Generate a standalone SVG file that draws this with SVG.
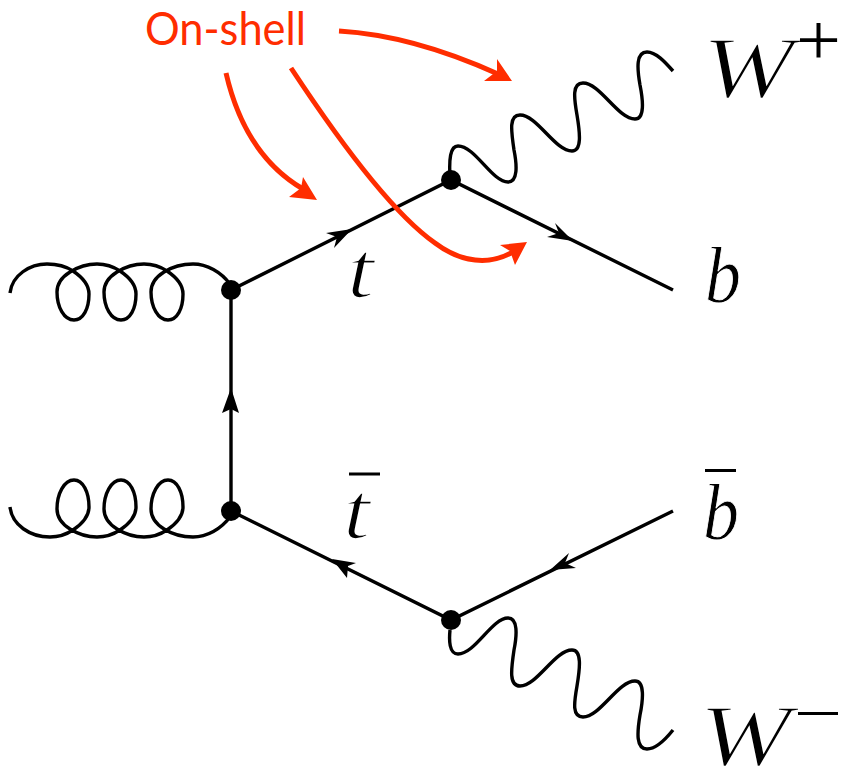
<svg xmlns="http://www.w3.org/2000/svg" width="841" height="768" viewBox="0 0 841 768">
<style>
.l{fill:none;stroke:#000;stroke-width:3.4;stroke-linecap:butt}
.r{fill:none;stroke:#ff2d00;stroke-width:5}
.rh{fill:#ff2d00}
.h{fill:#000}
.m{font-family:"Liberation Serif",serif;font-style:italic;fill:#000;stroke:#fff;stroke-width:.9}
.n{stroke-width:1.7}
.s{font-family:"Liberation Serif",serif;fill:#000}
</style>
<rect width="841" height="768" fill="#fff"/>
<g id="connectors">
<path class="l" d="M231,511V290L451,180L673,290"/>
<path class="l" d="M673,511L451,620L231,511"/>
<path class="h" d="M352,229L326,233L337,237L334,248Z"/>
<path class="h" d="M573,241L547,237L559,233L555,223Z"/>
<path class="h" d="M231,388L222,413L231,409L239,413Z"/>
<path class="h" d="M332,559L356,563L348,566L347,578Z"/>
<path class="h" d="M550,570L569,553L565,563L576,568Z"/>
<path class="l" d="M10,293C12,275 30,264 47,264C58,264 67,267 73,271C82,277 89,284 89,294C89,309 83,320 74,320C64,320 57,307 57,292C57,284 62,277 70,272C78,267 87,264 97,264C106,264 114,267 120,271C129,277 136,284 136,294C136,309 130,320 121,320C111,320 104,307 104,292C104,284 109,277 117,272C125,267 134,264 144,264C153,264 161,267 167,271C176,277 183,284 183,294C183,309 177,320 168,320C158,320 151,307 151,292C151,284 156,277 164,272C172,267 182,264 193,264C207,264 221,272 230,284"/>
<path class="l" d="M10,507C12,525 30,537 50,537C58,537 67,534 73,530C82,524 89,517 89,507C89,492 83,480 74,480C64,480 57,494 57,509C57,517 62,524 70,529C78,534 87,537 97,537C106,537 114,534 120,530C129,524 136,517 136,507C136,492 130,480 121,480C111,480 104,494 104,509C104,517 109,524 117,529C125,534 134,537 144,537C153,537 161,534 167,530C176,524 183,517 183,507C183,492 177,480 168,480C158,480 151,494 151,509C151,517 156,524 164,529C172,534 182,537 193,537C207,537 221,529 230,517"/>
<path class="l" d="M450,177C449,160 450,146 458,146C475,146 492,182 508,182C518,182 517,165 514,150C511,130 509,115 520,115C537,115 555,151 572,151C582,151 580,133 577,115C574,98 572,83 583,83C600,83 618,119 635,119C645,119 643,100 640,85C637,68 636,52 647,52C656,52 665,62 673,71"/>
<path class="l" d="M450,630C449,640 449,654 458,654C475,654 492,618 508,618C518,618 517,635 514,650C511,670 509,686 520,686C537,686 555,650 572,650C582,650 580,668 577,686C574,703 572,717 583,717C600,717 618,681 635,681C645,681 643,700 640,715C637,733 636,749 647,749C656,749 665,740 673,730"/>
<path class="r" d="M339,31C390,34 445,50 498,74"/>
<path class="rh" d="M512,81L484,81L497,71L497,59Z"/>
<path class="r" d="M226,73C238,125 262,165 303,189"/>
<path class="rh" d="M317,200L289,197L301,188L303,177Z"/>
<path class="r" d="M291,68C345,150 395,215 435,243C460,262 490,267 516,250"/>
<path class="rh" d="M527,242L500,245L510,251L515,265Z"/>
</g>
<g id="v1"><circle cx="231" cy="290" r="10"/></g>
<g id="v2"><circle cx="231" cy="511" r="10"/></g>
<g id="v3"><circle cx="451" cy="180" r="10"/></g>
<g id="v4"><circle cx="451" cy="620" r="10"/></g>
<g id="label-onshell"><text x="145" y="45" font-family="Lato,sans-serif" font-size="46" fill="#ff2d00" textLength="161" lengthAdjust="spacingAndGlyphs">On-shell</text></g>
<g id="label-t"><text class="m n" x="347" y="297" font-size="80" textLength="27" lengthAdjust="spacingAndGlyphs">t</text></g>
<g id="label-tbar"><text class="m n" x="343" y="538" font-size="80" textLength="27" lengthAdjust="spacingAndGlyphs">t</text><rect x="349" y="472.5" width="31" height="3"/></g>
<g id="label-b"><text class="m" x="705" y="302" font-size="80" textLength="36" lengthAdjust="spacingAndGlyphs">b</text></g>
<g id="label-bbar"><text class="m" x="703" y="539" font-size="80" textLength="36" lengthAdjust="spacingAndGlyphs">b</text><rect x="705" y="469" width="31" height="3"/></g>
<g id="label-wplus"><text class="m n" x="702" y="97" font-size="86" textLength="92" lengthAdjust="spacingAndGlyphs">W</text><text class="s" x="796" y="65" font-size="73" textLength="45" lengthAdjust="spacingAndGlyphs">+</text></g>
<g id="label-wminus"><text class="m n" x="699" y="765" font-size="86" textLength="92" lengthAdjust="spacingAndGlyphs">W</text><rect x="798" y="712" width="40" height="3"/></g>
</svg>
